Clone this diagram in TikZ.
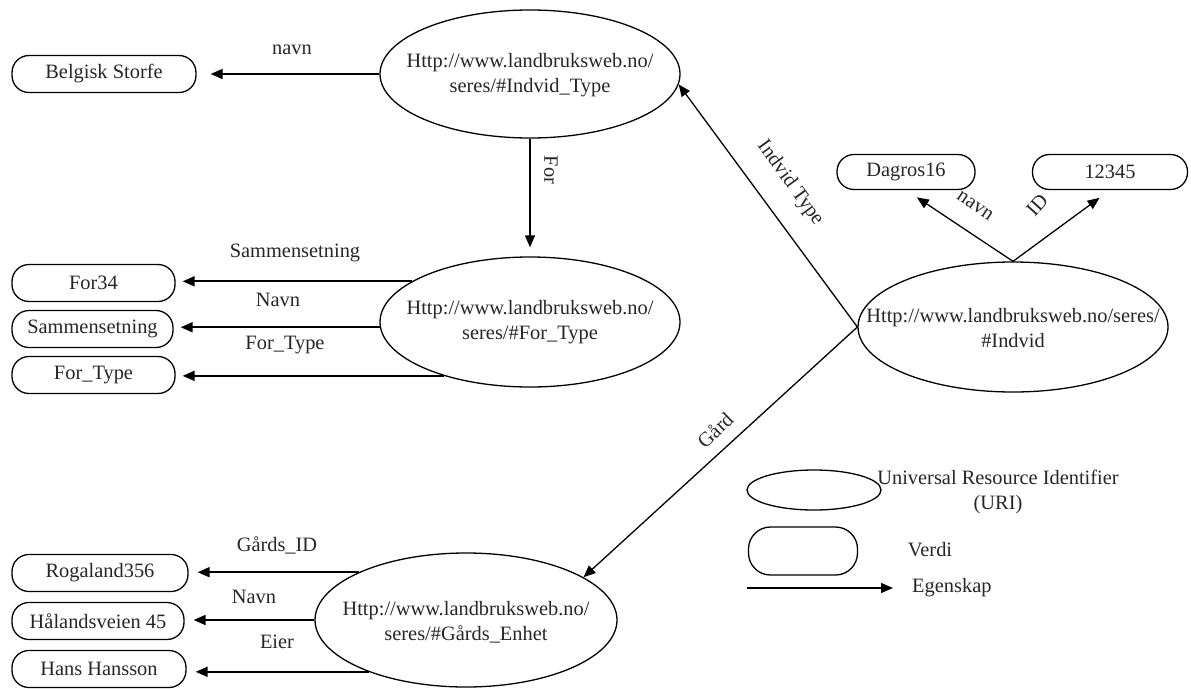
\documentclass[tikz,border=0pt]{standalone}
\usepackage{fontspec}
\setmainfont{Liberation Serif}
\usetikzlibrary{shapes.geometric,arrows.meta}
\begin{document}
\begin{tikzpicture}[x=1pt,y=-1pt,
  every node/.style={font=\fontsize{20.4}{25.5}\selectfont, text=black!85},
  uri/.style={draw, ellipse, line width=1.3pt, minimum width=300pt, minimum height=128pt, inner sep=0pt},
  uritext/.style={align=center, inner sep=0pt},
  value/.style={draw, rectangle, rounded corners=17pt, line width=1.3pt, minimum height=37pt, inner sep=0pt},
  prop/.style={-{Triangle[length=12pt,width=10pt]}, line width=1.3pt},
  hprop/.style={prop, line width=1.8pt},
  lbl/.style={inner sep=1pt}
]
\useasboundingbox (0,0) rectangle (1191,688);

% --- Indvid_Type resource ---
\node[uri] (it) at (530,74) {};
\node[uritext] (itt) at (530,75) {Http://www.landbruksweb.no/\\seres/\#Indvid\_Type};
\node[value, minimum width=184pt] (bs) at (104,74) {Belgisk Storfe};
\draw[hprop, shorten >=14pt] (it.west) -- (bs.east);
\node[lbl] (lbsnavn) at (292,50) {navn};

% --- For_Type resource ---
\node[uri, minimum height=130pt] (ft) at (530,322) {};
\node[uritext] (ftt) at (530,322) {Http://www.landbruksweb.no/\\seres/\#For\_Type};
\draw[prop, shorten >=9pt] (it.south) -- (ft.north);
\node[lbl, rotate=-90] (lfor) at (551,170) {For};

\node[value, minimum width=163pt] (b1) at (93.5,283) {For34};
\node[value, minimum width=161pt] (b2) at (92.5,329) {Sammensetning};
\node[value, minimum width=163pt] (b3) at (93.5,375) {For\_Type};
\draw[hprop, shorten >=7pt] (ft.161.9) -- (ft.161.9 -| b1.east);
\draw[hprop, shorten >=7pt] (ft.182.7) -- (ft.182.7 -| b2.east);
\draw[hprop, shorten >=7pt] (ft.212.2) -- (ft.212.2 -| b3.east);
\node[lbl] (lsam) at (295,253) {Sammensetning};
\node[lbl] (lnavn1) at (278,300) {Navn};
\node[lbl] (lftype) at (285,345) {For\_Type};

% --- Indvid resource ---
\node[uri, minimum width=310pt, minimum height=130pt] (iv) at (1013,327) {};
\node[uritext] (ivt) at (1013,328) {Http://www.landbruksweb.no/seres/\\\#Indvid};
\node[value, minimum width=138pt, minimum height=35pt] (dg) at (906,172) {Dagros16};
\node[value, minimum width=155pt, minimum height=35pt] (id) at (1110,172) {12345};
\draw[prop, shorten >=13pt] (iv.north) -- (dg.south);
\draw[prop, shorten >=13pt] (iv.north) -- (id.south);
\node[lbl, rotate=-34] (ldnavn) at (975,206) {navn};
\node[lbl, rotate=48] (lid) at (1037,205) {ID};

\draw[prop] (iv.west) -- (it.-4);
\node[lbl, rotate=-54] (litype) at (790,183) {Indvid Type};

% --- Gårds_Enhet resource ---
\node[uri, minimum width=302pt, minimum height=134pt] (ge) at (466,620) {};
\node[uritext] (get) at (466,622) {Http://www.landbruksweb.no/\\seres/\#Gårds\_Enhet};
\draw[prop] (iv.west) -- (ge.20);
\node[lbl, rotate=44] (lgard) at (715,430) {Gård};

\node[value, minimum width=176pt] (rg) at (100,573) {Rogaland356};
\node[value, minimum width=172pt] (hv) at (98,621) {Hålandsveien 45};
\node[value, minimum width=174pt] (hh) at (99,669) {Hans Hansson};
\draw[hprop, shorten >=9pt] (ge.156.4) -- (ge.156.4 -| rg.east);
\draw[hprop, shorten >=9pt] (ge.180.8) -- (ge.180.8 -| hv.east);
\draw[hprop, shorten >=9pt] (ge.208.7) -- (ge.208.7 -| hh.east);
\node[lbl] (lgid) at (277,545) {Gårds\_ID};
\node[lbl] (lnavn2) at (254,597) {Navn};
\node[lbl] (leier) at (277,642) {Eier};

% --- legend ---
\node[draw, ellipse, line width=1.3pt, minimum width=134pt, minimum height=40pt, inner sep=0pt] (leg1) at (814,490) {};
\node[uritext] (leg1t) at (998,492) {Universal Resource Identifier\\(URI)};
\node[draw, rectangle, rounded corners=22pt, line width=1.3pt, minimum width=109pt, minimum height=48pt, inner sep=0pt] (leg2) at (803,551) {};
\node[lbl] (leg2t) at (930,550) {Verdi};
\coordinate (leg3a) at (747,588);
\coordinate (leg3b) at (893,588);
\draw[prop] (leg3a) -- (leg3b);
\node[lbl, anchor=west] (leg3t) at (911,588) {Egenskap};
\end{tikzpicture}
\end{document}
